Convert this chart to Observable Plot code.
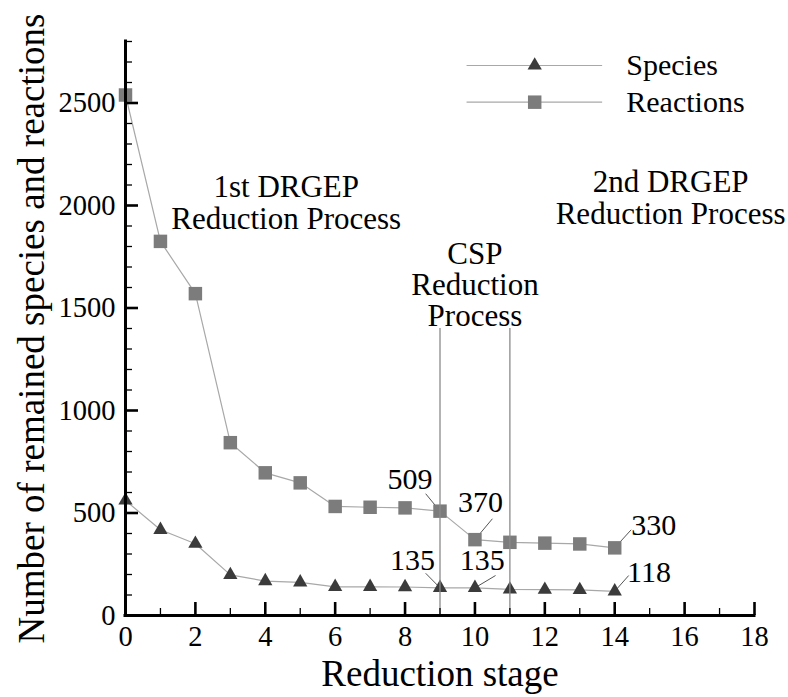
<!DOCTYPE html>
<html>
<head>
<meta charset="utf-8">
<script src="https://cdn.jsdelivr.net/npm/d3@7"></script>
<script src="https://cdn.jsdelivr.net/npm/@observablehq/plot@0.6"></script>
<style>
  html, body { margin: 0; padding: 0; background: #fff; }
  #chart svg { display: block; }
</style>
</head>
<body>
<div id="chart"></div>
<script>
// Remaining species and reactions after each reduction stage
const stages    = [0, 1, 2, 3, 4, 5, 6, 7, 8, 9, 10, 11, 12, 13, 14];
const species   = [561, 418, 350, 198, 168, 162, 140, 140, 139, 135, 135, 127, 126, 125, 118];
const reactions = [2539, 1825, 1570, 843, 696, 647, 532, 528, 525, 509, 370, 357, 353, 349, 330];
const seriesNames = ["Species", "Reactions"];

// Axis ticks
const xMajorTicks = [0, 2, 4, 6, 8, 10, 12, 14, 16, 18];
const xMinorTicks = [1, 3, 5, 7, 9, 11, 13, 15, 17];
const yMajorTicks = [0, 500, 1000, 1500, 2000, 2500];
const yMinorTicks = d3.range(100, 2801, 100).filter(v => v % 500 !== 0);

// Stages bounding the CSP step
const stageBoundaries = [9, 11];
const boundaryTop = 1400;

// Phase annotations (data coordinates)
const phaseLabels = [
  {text: "1st DRGEP\nReduction Process", x: 4.6, y: 2012},
  {text: "CSP\nReduction\nProcess", x: 10, y: 1612},
  {text: "2nd DRGEP\nReduction Process", x: 15.6, y: 2037}
];

// Value callouts: which point, where the label sits and where its leader starts
const callouts = [
  {series: "Reactions", stage: 9,  lx: 8.14,  ly: 662, ax: 8.59,  ay: 594},
  {series: "Reactions", stage: 10, lx: 10.16, ly: 551, ax: 10.50, ay: 472},
  {series: "Reactions", stage: 14, lx: 15.12, ly: 439, ax: 14.47, ay: 418},
  {series: "Species",   stage: 9,  lx: 8.21,  ly: 268, ax: 8.59,  ay: 206},
  {series: "Species",   stage: 10, lx: 10.21, ly: 268, ax: 10.59, ay: 195},
  {series: "Species",   stage: 14, lx: 14.98, ly: 211, ax: 14.40, ay: 195}
];

const valuesBySeries = {Species: species, Reactions: reactions};
const rows = stages.flatMap((s, i) => seriesNames.map(name => ({stage: s, series: name, value: valuesBySeries[name][i]})));
const calloutRows = callouts.map(c => ({...c, value: valuesBySeries[c.series][stages.indexOf(c.stage)]}));

const styleOf = {
  Species:   {symbol: "triangle", r: 5.3, fill: "#3b3b3b"},
  Reactions: {symbol: "square",   r: 7.6, fill: "#7c7c7c"}
};

// Legend rows, placed in the upper right of the frame
const legendRows = seriesNames.map((name, i) => ({name, y: 2683 - i * 179, x1: 9.76, x2: 13.64, xm: 11.71, xt: 14.33}));

const width = 788, height = 697;
const marginLeft = 125, marginRight = 34, marginTop = 41, marginBottom = 82;
const plotW = width - marginLeft - marginRight;
const plotH = height - marginTop - marginBottom;
const serif = "'Liberation Serif', 'Times New Roman', Times, serif";
const lineGray = "#a8a8a8";

const chart = Plot.plot({
  width, height, marginLeft, marginRight, marginTop, marginBottom,
  style: {fontFamily: serif, background: "#fff", color: "#000"},
  x: {domain: [0, 18]},
  y: {domain: [0, 2800]},
  marks: [
    // series lines
    Plot.line(rows, {x: "stage", y: "value", z: "series", stroke: lineGray, strokeWidth: 1.2}),
    // leader lines for the value callouts
    Plot.link(calloutRows, {x1: "ax", y1: "ay", x2: "stage", y2: "value", stroke: "#555", strokeWidth: 1}),
    // markers
    ...seriesNames.map(name => Plot.dot(rows.filter(d => d.series === name), {
      x: "stage", y: "value", symbol: styleOf[name].symbol, r: styleOf[name].r, fill: styleOf[name].fill, stroke: null
    })),
    // CSP stage boundaries
    Plot.ruleX(stageBoundaries, {x: d => d, y1: 0, y2: boundaryTop, stroke: "#8a8a8a", strokeWidth: 1.3}),
    // callout numbers
    Plot.text(calloutRows, {x: "lx", y: "ly", text: d => String(d.value), fontSize: 30, fontFamily: serif, lineAnchor: "middle", fill: "#000"}),
    // phase annotations
    Plot.text(phaseLabels, {x: "x", y: "y", text: "text", fontSize: 31, fontFamily: serif, lineAnchor: "middle", lineHeight: 1.01, fill: "#000"}),
    // legend
    Plot.link(legendRows, {x1: "x1", x2: "x2", y1: "y", y2: "y", stroke: lineGray, strokeWidth: 1.2}),
    ...seriesNames.map(name => Plot.dot(legendRows.filter(d => d.name === name), {
      x: "xm", y: "y", symbol: styleOf[name].symbol, r: styleOf[name].r, fill: styleOf[name].fill, stroke: null
    })),
    Plot.text(legendRows, {x: "xt", y: "y", text: "name", textAnchor: "start", lineAnchor: "middle", fontSize: 30, fontFamily: serif, fill: "#000"}),
    // axis lines
    Plot.ruleY([0], {stroke: "#000", strokeWidth: 3, strokeLinecap: "square"}),
    Plot.ruleX([0], {stroke: "#000", strokeWidth: 3, strokeLinecap: "square"}),
    // inward ticks
    Plot.ruleX(xMajorTicks, {x: d => d, insetTop: plotH - 13, stroke: "#000", strokeWidth: 2.6}),
    Plot.ruleX(xMinorTicks, {x: d => d, insetTop: plotH - 7, stroke: "#000", strokeWidth: 1.3}),
    Plot.ruleY(yMajorTicks, {y: d => d, insetRight: plotW - 13, stroke: "#000", strokeWidth: 2.6}),
    Plot.ruleY(yMinorTicks, {y: d => d, insetRight: plotW - 7, stroke: "#000", strokeWidth: 1.3}),
    // tick labels
    Plot.axisX({ticks: xMajorTicks, tickSize: 0, tickPadding: 10, tickFormat: d => String(d), label: null, fontSize: 28.5, fontFamily: serif}),
    Plot.axisY({ticks: yMajorTicks, tickSize: 0, tickPadding: 10, tickFormat: d => String(d), label: null, fontSize: 28.5, fontFamily: serif}),
    // axis titles
    Plot.text(["Reduction stage"], {frameAnchor: "bottom", dy: 70, textAnchor: "middle", lineAnchor: "bottom", fontSize: 37, fontFamily: serif, fill: "#000"}),
    Plot.text(["Number of remained species and reactions"], {frameAnchor: "left", dx: -82, rotate: -90, textAnchor: "middle", lineAnchor: "bottom", fontSize: 37, fontFamily: serif, fill: "#000"})
  ]
});

document.getElementById("chart").appendChild(chart);
</script>
</body>
</html>
